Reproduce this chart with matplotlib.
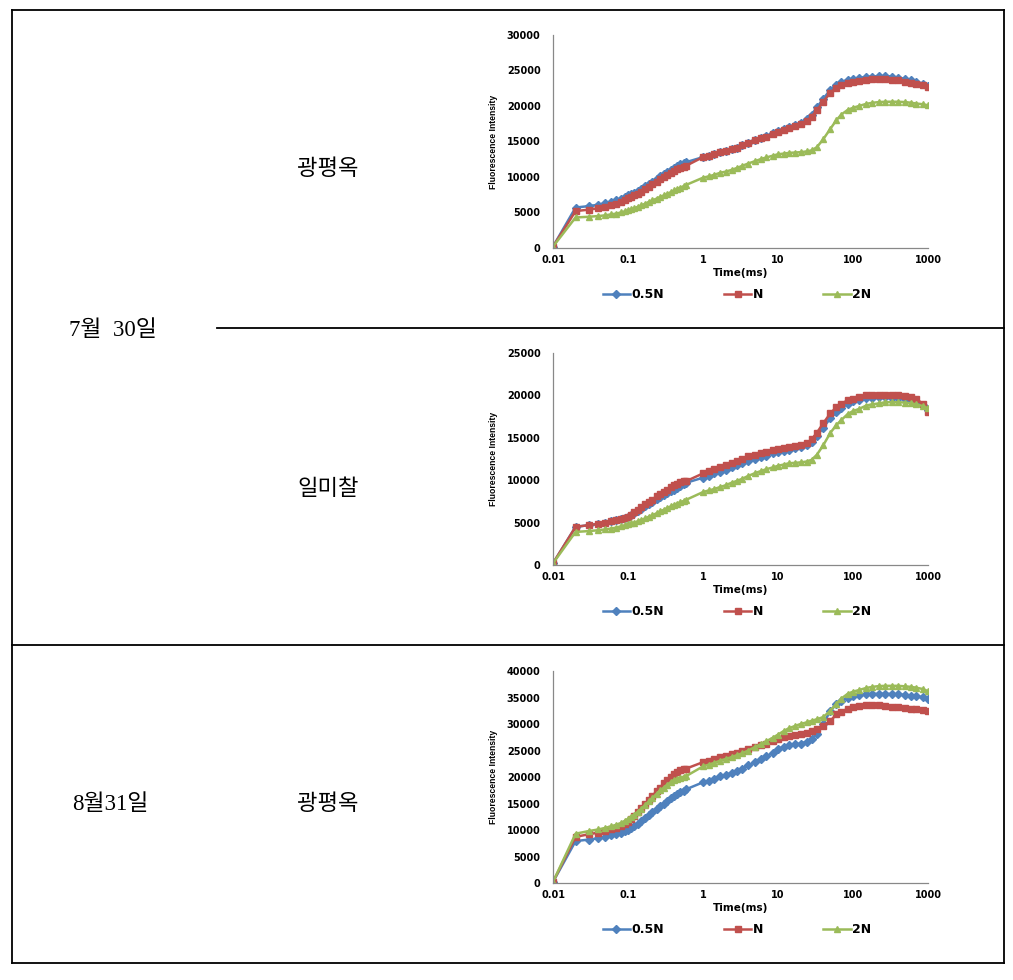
import matplotlib
matplotlib.use("Agg")
from matplotlib import pyplot as plt
from matplotlib.lines import Line2D

W, H = 1013, 980

# time points (ms)
t = [0.01, 0.02, 0.03, 0.04, 0.05, 0.06, 0.07, 0.08, 0.09, 0.1,
     0.11, 0.12, 0.135, 0.15, 0.17, 0.19, 0.21, 0.24, 0.27, 0.3,
     0.33, 0.37, 0.41, 0.45, 0.5, 0.55, 0.6,
     1, 1.2, 1.4, 1.7, 2, 2.4, 2.8, 3.3, 4, 5,
     6, 7, 8.5, 10, 12, 14, 17, 20, 24, 28,
     33, 40, 50, 60, 70, 85, 100, 120, 150, 180,
     220, 270, 330, 400, 500, 600, 700, 850, 1000]

# 7월 30일 광평옥
a_05n = [200, 5700, 5900, 6100, 6300, 6500, 6700, 6900, 7150, 7400,
         7600, 7800, 8050, 8300, 8700, 9000, 9350, 9750, 10100, 10400,
         10650, 11000, 11250, 11500, 11800, 11950, 12100,
         12800, 13000, 13200, 13500, 13650, 13900, 14150, 14450, 14800, 15200,
         15550, 15800, 16150, 16500, 16750, 17000, 17300, 17600, 18100, 18800,
         19800, 21000, 22300, 23000, 23400, 23650, 23800, 23950, 24100, 24150,
         24200, 24200, 24150, 24000, 23800, 23600, 23400, 23100, 22800]
a_n = [200, 5200, 5400, 5600, 5800, 6000, 6250, 6500, 6750, 7000,
       7200, 7400, 7650, 7900, 8300, 8650, 8950, 9350, 9700, 10000,
       10250, 10600, 10850, 11100, 11300, 11450, 11600,
       12800, 13000, 13200, 13500, 13650, 13900, 14150, 14450, 14800, 15150,
       15450, 15700, 16050, 16400, 16650, 16900, 17150, 17400, 17850, 18500,
       19400, 20600, 21900, 22600, 23000, 23250, 23400, 23550, 23700, 23750,
       23800, 23800, 23700, 23600, 23450, 23300, 23150, 22950, 22700]
a_2n = [200, 4300, 4400, 4500, 4600, 4750, 4850, 5000, 5150, 5300,
        5450, 5600, 5800, 6000, 6250, 6500, 6700, 6950, 7200, 7400,
        7600, 7850, 8100, 8300, 8500, 8700, 8900,
        9900, 10100, 10300, 10600, 10750, 11000, 11250, 11550, 11900, 12250,
        12550, 12750, 13000, 13200, 13300, 13400, 13450, 13500, 13600, 13750,
        14200, 15300, 16800, 18000, 18800, 19450, 19750, 20000, 20300, 20450,
        20550, 20600, 20600, 20600, 20550, 20450, 20350, 20250, 20100]

# 7월 30일 일미찰
b_05n = [200, 4500, 4700, 4850, 5000, 5150, 5280, 5400, 5550, 5700,
         5900, 6100, 6350, 6600, 6900, 7150, 7400, 7750, 8000, 8200,
         8450, 8700, 8900, 9100, 9300, 9500, 9700,
         10300, 10550, 10800, 11000, 11250, 11500, 11750, 12000, 12300, 12550,
         12750, 12900, 13150, 13300, 13450, 13600, 13750, 13900, 14150, 14500,
         15200, 16200, 17300, 18000, 18500, 19000, 19300, 19500, 19700, 19750,
         19800, 19800, 19750, 19700, 19550, 19400, 19250, 18900, 18300]
b_n = [200, 4500, 4700, 4850, 5000, 5150, 5280, 5400, 5550, 5700,
       5950, 6200, 6500, 6800, 7150, 7450, 7700, 8100, 8400, 8600,
       8850, 9150, 9400, 9600, 9800, 9850, 9900,
       10800, 11050, 11300, 11500, 11750, 12000, 12250, 12550, 12800, 13000,
       13200, 13350, 13550, 13700, 13800, 13900, 14000, 14100, 14350, 14800,
       15600, 16700, 17900, 18600, 19000, 19450, 19600, 19800, 20000, 20050,
       20100, 20100, 20100, 20100, 19950, 19800, 19600, 19000, 18100]
b_2n = [200, 3900, 4000, 4100, 4200, 4300, 4420, 4550, 4680, 4800,
        4900, 5000, 5150, 5300, 5500, 5700, 5850, 6100, 6350, 6500,
        6700, 6900, 7100, 7250, 7400, 7550, 7700,
        8600, 8800, 8950, 9200, 9400, 9700, 9900, 10150, 10500, 10850,
        11100, 11300, 11500, 11700, 11850, 12000, 12050, 12100, 12200, 12400,
        13000, 14100, 15600, 16500, 17100, 17800, 18150, 18400, 18800, 18950,
        19050, 19200, 19200, 19200, 19150, 19050, 18950, 18750, 18500]

# 8월31일 광평옥
c_05n = [200, 7900, 8200, 8400, 8700, 9000, 9250, 9500, 9750, 10000,
         10350, 10700, 11200, 11700, 12300, 12900, 13400, 14000, 14600, 15000,
         15450, 15950, 16400, 16800, 17200, 17450, 17700,
         19000, 19300, 19650, 20100, 20400, 20750, 21150, 21600, 22200, 22800,
         23350, 23900, 24550, 25300, 25700, 26000, 26150, 26300, 26650, 27200,
         28100, 30000, 32500, 33800, 34400, 34900, 35200, 35450, 35600, 35650,
         35700, 35700, 35650, 35600, 35450, 35350, 35250, 35050, 34800]
c_n = [200, 8700, 9200, 9500, 9800, 10100, 10450, 10800, 11200, 11600,
       12100, 12600, 13350, 14100, 14950, 15700, 16400, 17300, 18000, 18900,
       19450, 20000, 20500, 20900, 21300, 21450, 21600,
       22800, 23100, 23400, 23800, 24050, 24300, 24600, 24850, 25200, 25600,
       26000, 26300, 26750, 27200, 27500, 27800, 27950, 28100, 28350, 28650,
       29100, 29700, 30600, 31800, 32300, 32900, 33150, 33350, 33500, 33500,
       33500, 33400, 33300, 33200, 33050, 32900, 32750, 32550, 32400]
c_2n = [200, 9300, 9800, 10100, 10400, 10700, 11000, 11300, 11700, 12100,
        12500, 12900, 13450, 14000, 14750, 15400, 16000, 16800, 17500, 18000,
        18500, 19000, 19450, 19700, 19900, 20050, 20200,
        22000, 22350, 22650, 23100, 23400, 23750, 24100, 24450, 25000, 25700,
        26250, 26750, 27400, 28000, 28700, 29200, 29650, 30000, 30300, 30600,
        30900, 31300, 32500, 33800, 34800, 35700, 36100, 36400, 36800, 37000,
        37150, 37200, 37200, 37200, 37100, 37000, 36850, 36600, 36200]

labels = ['0.5N', 'N', '2N']
ymax = [30000, 25000, 40000]
ystep = 5000
xticks = [0.01, 0.1, 1, 10, 100, 1000]
xticklabels = ['0.01', '0.1', '1', '10', '100', '1000']

panels = [(a_05n, a_n, a_2n), (b_05n, b_n, b_2n), (c_05n, c_n, c_2n)]
# axes box in pixels: left, top, right, bottom
boxes = [(553, 35, 928, 248), (553, 353, 928, 565), (553, 671, 928, 883)]

styles = [dict(color='#4F81BD', marker='D', markersize=3.6),
          dict(color='#C0504D', marker='s', markersize=5),
          dict(color='#9BBB59', marker='^', markersize=5)]

fig = plt.figure(figsize=(W / 100, H / 100), dpi=100)

for i, series in enumerate(panels):
	l, tp, r, b = boxes[i]
	ax = fig.add_axes([l / W, 1 - b / H, (r - l) / W, (b - tp) / H])
	for y, lab, st in zip(series, labels, styles):
		ax.plot(t, y, linewidth=1.8, label=lab, **st)
	ax.set_xscale('log')
	ax.set_xlim(0.01, 1000)
	ax.set_ylim(0, ymax[i])
	ax.set_xticks(xticks)
	ax.set_xticklabels(xticklabels)
	ax.minorticks_off()
	ax.set_yticks(range(0, ymax[i] + 1, ystep))
	ax.tick_params(length=0, labelsize=7)
	ax.tick_params(axis='y', pad=9)
	ax.tick_params(axis='x', pad=5)
	for lb in ax.get_xticklabels() + ax.get_yticklabels():
		lb.set_fontweight('bold')
	for s in ['top', 'right']:
		ax.spines[s].set_visible(False)
	for s in ['left', 'bottom']:
		ax.spines[s].set_color('#888888')
		ax.spines[s].set_linewidth(0.9)
	ax.set_xlabel('Time(ms)', fontsize=7.5, fontweight='bold', labelpad=2)
	ax.set_ylabel('Fluorescence Intensity', fontsize=6.2, fontweight='bold',
				  family='Liberation Sans')
	ax.yaxis.set_label_coords(-0.147, 0.5)
	ax.legend(loc='center', bbox_to_anchor=(0.49, -0.22), ncol=3, frameon=False,
			  prop=dict(size=9, weight='bold'), handlelength=2.2, handletextpad=0.1,
			  columnspacing=4.8)

# table lines
def line(x0, y0, x1, y1):
	fig.add_artist(Line2D([x0 / W, x1 / W], [1 - y0 / H, 1 - y1 / H], color='black', linewidth=1.3))

line(12, 10, 1004, 10)
line(12, 963, 1004, 963)
line(12, 10, 12, 963)
line(1004, 10, 1004, 963)
line(12, 645, 1004, 645)
line(217, 328, 1004, 328)

kfont = ['Liberation Serif', 'Noto Sans CJK KR']
fig.text(328 / W, 1 - 170 / H, '광평옥', fontsize=16, family=kfont, ha='center', va='center')
fig.text(328 / W, 1 - 490 / H, '일미찰', fontsize=16, family=kfont, ha='center', va='center')
fig.text(328 / W, 1 - 805 / H, '광평옥', fontsize=16, family=kfont, ha='center', va='center')
fig.text(113 / W, 1 - 330 / H, '7월  30일', fontsize=16.5, family=kfont, ha='center', va='center')
fig.text(110 / W, 1 - 805 / H, '8월31일', fontsize=16.5, family=kfont, ha='center', va='center')

plt.savefig('out.png', dpi=100)
